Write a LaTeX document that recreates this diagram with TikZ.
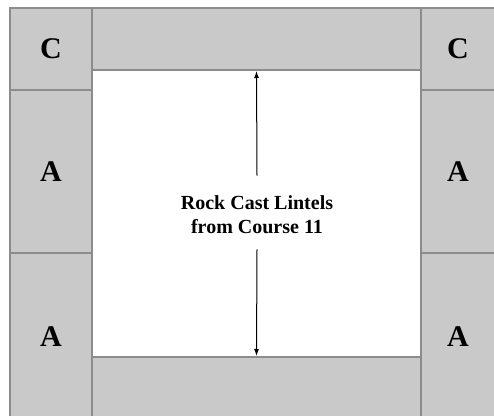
\documentclass[tikz,border=0pt]{standalone}
\usepackage{fontspec}
\setmainfont{Liberation Serif}
\usetikzlibrary{arrows.meta}
\definecolor{cellfill}{HTML}{C9C9C9}
\definecolor{cellline}{HTML}{8C8C8C}
\tikzset{
    cell/.style={draw=cellline, fill=cellfill, line width=2pt, inner sep=0pt,
        font=\bfseries\fontsize{30}{34}\selectfont},
    lintel/.style={align=center, inner sep=0pt,
        font=\bfseries\fontsize{20}{24}\selectfont},
    span/.style={line width=1pt, -{Latex[length=7pt, width=5pt]}}
}
\begin{document}
\begin{tikzpicture}[x=1pt, y=1pt]

    \useasboundingbox (0, 0) rectangle (494, 415);
    \clip (0, 0) rectangle (494, 415);

    % strips over and under the opening
    \node[cell, minimum width=329, minimum height=62] (top) at (256.5, 376) {};
    \node[cell, minimum width=329, minimum height=63] (bottom) at (256.5, 26.5) {};

    % left jamb
    \node[cell, minimum width=82, minimum height=82] (cleft) at (51, 366) {C};
    \node[cell, minimum width=82, minimum height=163] (aleft) at (51, 243.5) {A};
    \node[cell, minimum width=82, minimum height=167] (bleft) at (51, 78.5) {A};

    % right jamb
    \node[cell, minimum width=74, minimum height=82] (cright) at (458, 366) {C};
    \node[cell, minimum width=74, minimum height=163] (aright) at (458, 243.5) {A};
    \node[cell, minimum width=74, minimum height=167] (bright) at (458, 78.5) {A};

    \node[lintel] (lintels) at (257, 200) {Rock Cast Lintels\\from Course 11};

    \draw[span] ([yshift=20pt]lintels.north) -- (top.south);
    \draw[span] ([yshift=-15pt]lintels.south) -- (bottom.north);

\end{tikzpicture}
\end{document}
